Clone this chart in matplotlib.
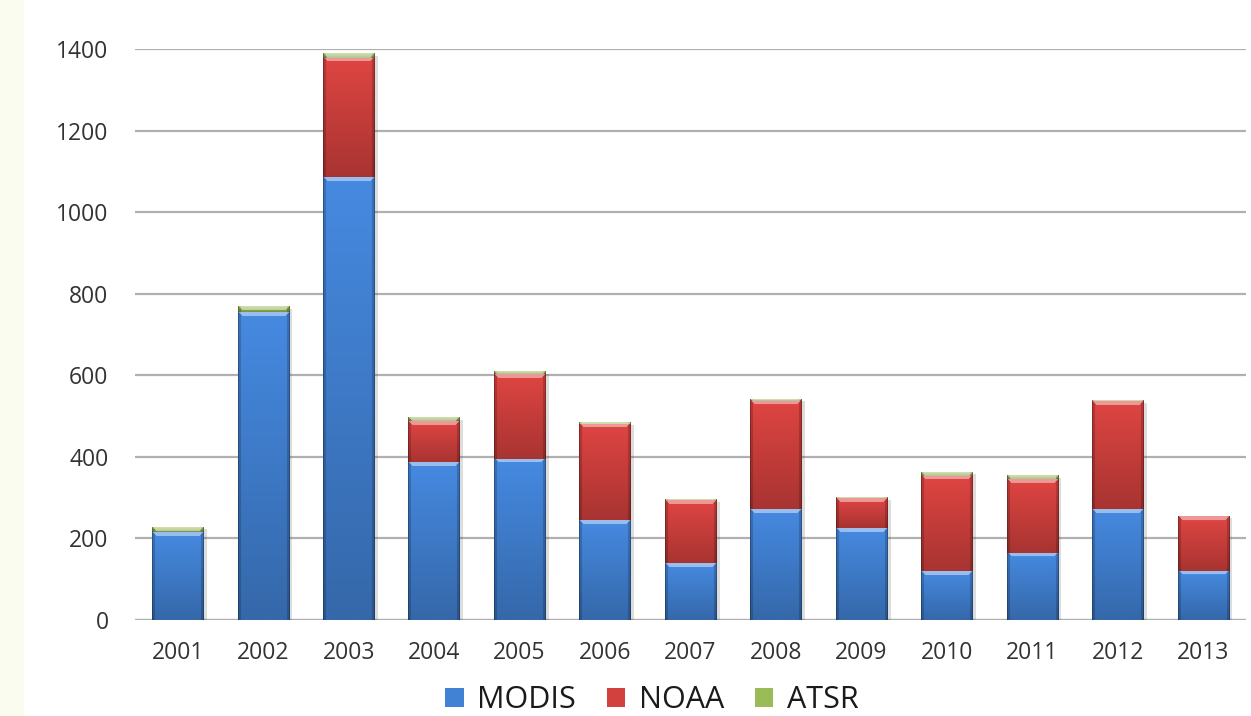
import numpy as np
import matplotlib
matplotlib.use("Agg")
import matplotlib.pyplot as plt
import matplotlib.patheffects as pe
from matplotlib.patches import Rectangle, Patch
from matplotlib.colors import to_rgb

plt.rcParams['font.family'] = ['Open Sans', 'DejaVu Sans']

years = ['2001', '2002', '2003', '2004', '2005', '2006', '2007',
         '2008', '2009', '2010', '2011', '2012', '2013']
modis = [215, 754, 1085, 387, 395, 244, 139, 272, 225, 119, 165, 272, 121]
noaa = [0, 0, 293, 100, 208, 237, 154, 266, 73, 235, 181, 264, 133]
atsr = [12, 14, 11, 9, 6, 3, 2, 4, 2, 8, 8, 2, 0]

series = [('MODIS', modis, '#4282d4'),
          ('NOAA', noaa, '#d2413e'),
          ('ATSR', atsr, '#9bbb59')]

fig = plt.figure(figsize=(12.51, 7.16), dpi=100)
fig.patch.set_facecolor('white')
# pale strip along the left edge
fig.add_artist(Rectangle((0, 0), 24 / 1251, 1, transform=fig.transFigure,
                         facecolor='#fafcef', edgecolor='none', zorder=0))

ax = fig.add_axes([135 / 1251, 96 / 716, 1111 / 1251, 571 / 716])
ax.set_xlim(-0.5, len(years) - 0.5)
ax.set_ylim(0, 1400)
ax.set_yticks(range(0, 1401, 200))
ax.yaxis.grid(True, color='#b0b0b0', linewidth=1.6)
ax.set_axisbelow(True)
for s in ax.spines.values():
    s.set_visible(False)
ax.axhline(0, color='#b0b0b0', linewidth=1.6, zorder=1)
ax.tick_params(length=0, labelsize=16.5, labelcolor='#333333')
ax.tick_params(axis='y', pad=19)
ax.tick_params(axis='x', pad=15)
x = np.arange(len(years))
ax.set_xticks(x)
ax.set_xticklabels(years)


def shaded(rgb, w, h):
    """Bevelled gradient image for one bar segment, w x h pixels."""
    w = max(int(round(w)), 2)
    h = max(int(round(h)), 1)
    rgb = np.array(rgb)
    yy = np.linspace(0, 1, h)[:, None]
    xx = np.arange(w)[None, :]
    vert = 1.06 - 0.26 * yy
    edge = np.minimum(xx, w - 1 - xx)
    horiz = np.where(edge < 1, 0.62, np.where(edge < 3, 0.82, 1.0))
    img = rgb[None, None, :] * (vert * horiz)[:, :, None]
    # light bevel along the top
    rows = np.arange(h)[:, None]
    hl = (rows < 4) & (edge >= np.minimum(rows + 1, 4))
    img = np.where(hl[:, :, None], img + (1 - img) * 0.45, img)
    img = np.clip(img, 0, 1)
    alpha = np.ones((h, w, 1))
    return np.concatenate([img, alpha], axis=2)


bottom = np.zeros(len(years))
fig.canvas.draw()
for name, vals, col in series:
    vals = np.array(vals, dtype=float)
    bars = ax.bar(x, vals, width=0.6, bottom=bottom, color=col, zorder=2,
                  edgecolor='none', label=name,
                  path_effects=[pe.SimplePatchShadow(offset=(2.5, -1.5), alpha=0.2,
                                                    shadow_rgbFace='#555555'),
                                pe.Normal()])
    for p in bars:
        if p.get_height() <= 0:
            continue
        x0, y0 = p.get_x(), p.get_y()
        x1, y1 = x0 + p.get_width(), y0 + p.get_height()
        (px0, py0), (px1, py1) = ax.transData.transform([(x0, y0), (x1, y1)])
        img = shaded(to_rgb(col), px1 - px0, py1 - py0)
        ax.imshow(img, extent=(x0, x1, y0, y1), origin='upper', aspect='auto',
                  interpolation='bilinear', zorder=3)
    bottom += vals

ax.set_xlim(-0.5, len(years) - 0.5)
ax.set_ylim(0, 1400)

handles = [Patch(facecolor=c, edgecolor='none', label=n) for n, _, c in series]
fig.legend(handles=handles, loc='center', bbox_to_anchor=(0.521, 0.022), ncol=3,
           frameon=False, fontsize=22, handlelength=0.6, handleheight=0.6,
           handletextpad=0.45, columnspacing=1.0, labelcolor='#1a1a1a')

fig.savefig('out.png', dpi=100, facecolor=fig.get_facecolor())
